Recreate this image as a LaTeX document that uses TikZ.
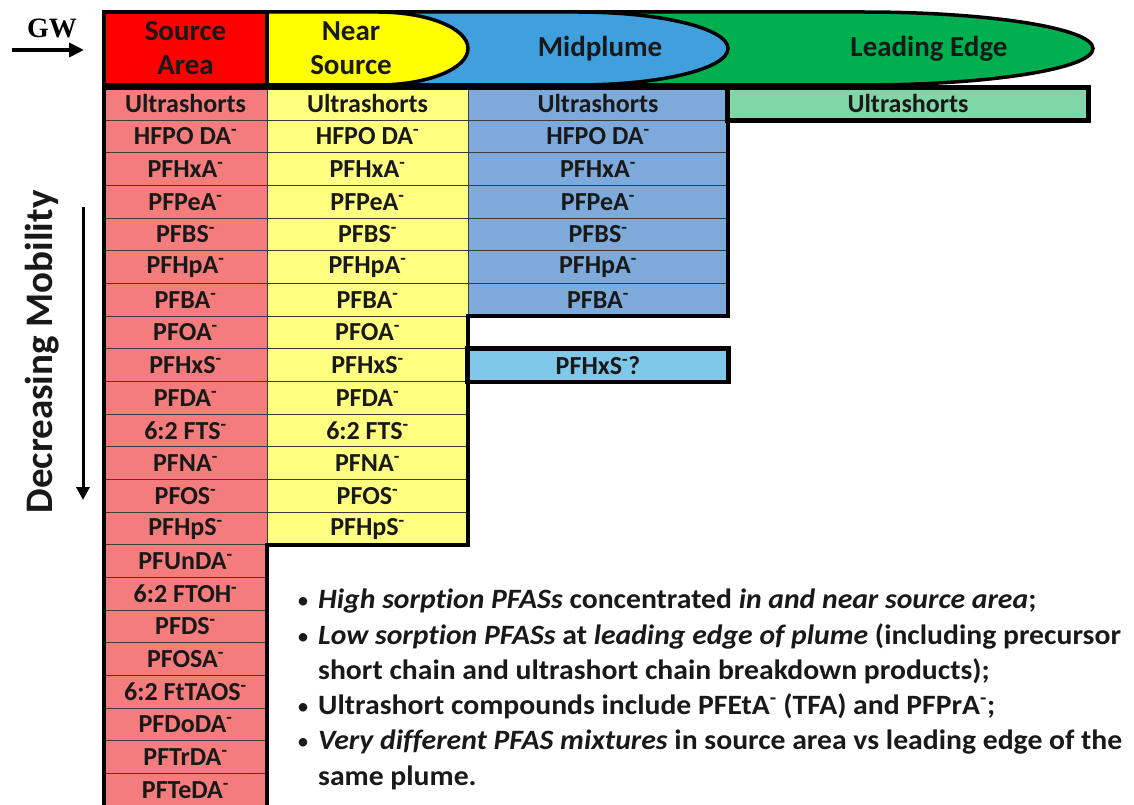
\documentclass[tikz,border=0pt]{standalone}
\usepackage{fontspec}
\setmainfont{Carlito}[Ligatures=NoCommon]
\newfontfamily\gwfont{Liberation Serif}
\usetikzlibrary{arrows.meta}
\definecolor{srcC}{RGB}{245,124,124}
\definecolor{nearC}{RGB}{255,255,128}
\definecolor{midC}{RGB}{125,170,218}
\definecolor{qC}{RGB}{128,200,234}
\definecolor{leadC}{RGB}{128,214,166}
\definecolor{hRed}{RGB}{255,0,0}
\definecolor{hYel}{RGB}{255,255,0}
\definecolor{hBlue}{RGB}{64,160,222}
\definecolor{hGreen}{RGB}{0,176,80}
\definecolor{sepC}{RGB}{60,60,60}
\newcommand{\plumeshape}[4]{\draw[hdr,fill=#4] (#1,12) -- (#2,12) .. controls ({#2+0.5523*(#3-#2)},12) and (#3,28.34) .. (#3,48.5) .. controls (#3,68.66) and ({#2+0.5523*(#3-#2)},85) .. (#2,85) -- (#1,85) -- cycle;}
\begin{document}
\begin{tikzpicture}[x=1pt,y=-1pt,
  hdr/.style={draw=black,line width=3.5pt},
  htext/.style={font=\fontsize{29}{34}\selectfont\bfseries,align=center,text=black!90},
  cell/.style={draw=sepC,line width=1pt,minimum height=32.67pt,inner sep=0pt,font=\fontsize{26}{30}\selectfont\bfseries,text=black!90},
  srccell/.style={cell,fill=srcC,minimum width=163pt},
  nearcell/.style={cell,fill=nearC,minimum width=201pt},
  midcell/.style={cell,fill=midC,minimum width=260pt},
  border/.style={draw=black,line width=4.5pt,line join=miter},
  bigarrow/.style={line width=3pt,-{Triangle[length=13pt,width=13pt]}},
  gwarrow/.style={line width=4.5pt,-{Triangle[length=15pt,width=14pt]}},
  bul/.style={anchor=base west,inner sep=0pt,xscale=1.06,font=\fontsize{28}{32}\selectfont\bfseries,text=black!90},
  dot/.style={anchor=base,inner sep=0pt,font=\fontsize{24}{28}\selectfont,text=black!90}]
\useasboundingbox (0,0) rectangle (1134,805);
\fill[white] (0,0) rectangle (1134,805);
% header plume shapes
\plumeshape{500}{863}{1093}{hGreen}
\plumeshape{267}{578}{728}{hBlue}
\plumeshape{267}{378}{468}{hYel}
\draw[hdr,fill=hRed] (104,12) rectangle (267,85);
\node[htext] (hsrc) at (185.5,48.5) {Source\\Area};
\node[htext] (hnear) at (351,48.5) {Near\\Source};
\node[htext] (hmid) at (600,48.5) {Midplume};
\node[htext] (hlead) at (929,48.5) {Leading Edge};
% GW arrow
\node[font=\gwfont\bfseries\fontsize{28}{32}\selectfont] (gw) at (52,28) {GW};
\coordinate (gwS) at (12,50);
\coordinate (gwE) at (84,50);
\draw[gwarrow] (gwS) -- (gwE);
% source column
\foreach \t [count=\i] in {Ultrashorts,HFPO DA\textsuperscript{-},PFHxA\textsuperscript{-},PFPeA\textsuperscript{-},PFBS\textsuperscript{-},PFHpA\textsuperscript{-},PFBA\textsuperscript{-},PFOA\textsuperscript{-},PFHxS\textsuperscript{-},PFDA\textsuperscript{-},6:2 FTS\textsuperscript{-},PFNA\textsuperscript{-},PFOS\textsuperscript{-},PFHpS\textsuperscript{-},PFUnDA\textsuperscript{-},6:2 FTOH\textsuperscript{-},PFDS\textsuperscript{-},PFOSA\textsuperscript{-},6:2 FtTAOS\textsuperscript{-},PFDoDA\textsuperscript{-},PFTrDA\textsuperscript{-},PFTeDA\textsuperscript{-}}
  \node[srccell] (s\i) at (185.5,{87.5+(\i-0.5)*32.67}) {\t};
% near source column
\foreach \t [count=\i] in {Ultrashorts,HFPO DA\textsuperscript{-},PFHxA\textsuperscript{-},PFPeA\textsuperscript{-},PFBS\textsuperscript{-},PFHpA\textsuperscript{-},PFBA\textsuperscript{-},PFOA\textsuperscript{-},PFHxS\textsuperscript{-},PFDA\textsuperscript{-},6:2 FTS\textsuperscript{-},PFNA\textsuperscript{-},PFOS\textsuperscript{-},PFHpS\textsuperscript{-}}
  \node[nearcell] (n\i) at (367.5,{87.5+(\i-0.5)*32.67}) {\t};
% midplume column
\foreach \t [count=\i] in {Ultrashorts,HFPO DA\textsuperscript{-},PFHxA\textsuperscript{-},PFPeA\textsuperscript{-},PFBS\textsuperscript{-},PFHpA\textsuperscript{-},PFBA\textsuperscript{-}}
  \node[midcell] (m\i) at (598,{87.5+(\i-0.5)*32.67}) {\t};
\node[midcell,fill=qC] (mq) at (598,{87.5+8.5*32.67}) {PFHxS\textsuperscript{-}?};
% leading edge
\node[cell,fill=leadC,minimum width=360pt] (l1) at (908,{87.5+0.5*32.67}) {Ultrashorts};
% thick borders
\draw[border] (104,88) -- (1088,88) -- (1088,120.17) -- (728,120.17) -- (728,316.2) -- (468,316.2) -- (468,544.9) -- (267,544.9) -- (267,815) -- (104,815) -- cycle;
\draw[border] (l1.north west) rectangle (l1.south east);
\draw[border] (mq.north west) rectangle (mq.south east);
% decreasing mobility
\node[rotate=90,font=\fontsize{39}{46}\selectfont\bfseries,text=black!90] (mob) at (42,352) {Decreasing Mobility};
\coordinate (mobS) at (83,207);
\coordinate (mobE) at (83,500);
\draw[bigarrow] (mobS) -- (mobE);
% bullets
\node[dot] (b1) at (303,608) {•};
\node[dot] (b2) at (303,644) {•};
\node[dot] (b3) at (303,714) {•};
\node[dot] (b4) at (303,749) {•};
\node[bul] (t1) at (318,608) {\textit{High sorption PFASs} concentrated \textit{in and near source area};};
\node[bul] (t2) at (318,644) {\textit{Low sorption PFASs} at \textit{leading edge of plume} (including precursor};
\node[bul] (t3) at (318,679) {short chain and ultrashort chain breakdown products);};
\node[bul] (t4) at (318,714) {Ultrashort compounds include PFEtA\textsuperscript{-} (TFA) and PFPrA\textsuperscript{-};};
\node[bul] (t5) at (318,749) {\textit{Very different PFAS mixtures} in source area vs leading edge of the};
\node[bul] (t6) at (318,785) {same plume.};
\end{tikzpicture}
\end{document}
